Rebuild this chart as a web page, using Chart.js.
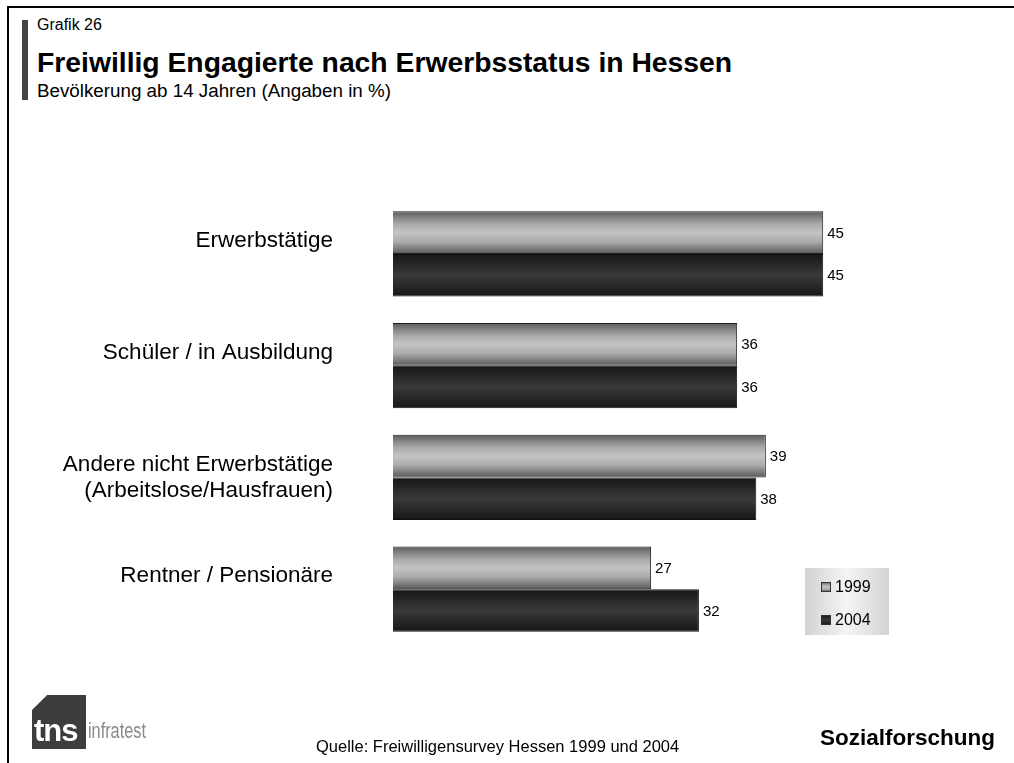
<!DOCTYPE html>
<html lang="de">
<head>
<meta charset="utf-8">
<title>Freiwillig Engagierte nach Erwerbsstatus in Hessen</title>
<script src="https://cdn.jsdelivr.net/npm/chart.js@4/dist/chart.umd.min.js"></script>
<style>
  html, body { margin: 0; padding: 0; background: #fff; }
  body { width: 1014px; height: 763px; position: relative; overflow: hidden;
         font-family: "Liberation Sans", Arial, Helvetica, sans-serif; color: #000; }
  #frame { position: absolute; left: 7px; top: 6px; right: 0; bottom: 0;
           border-left: 2px solid #000; border-top: 2px solid #000; }
  #accent { position: absolute; left: 22px; top: 20px; width: 6px; height: 80px; background: #444; }
  .t { position: absolute; white-space: nowrap; line-height: 1; }
  #kicker { left: 37px; top: 17px; font-size: 16px; }
  #title { left: 37px; top: 48px; font-size: 28.3px; font-weight: bold; }
  #subtitle { left: 37px; top: 82px; font-size: 18.8px; }
  #source { left: 316px; top: 738px; font-size: 16.5px; }
  #brand { left: 820px; top: 727px; font-size: 22.5px; font-weight: bold; }
  #logo { position: absolute; left: 32px; top: 695px; width: 54px; height: 54px; background: #3d3d3d;
          clip-path: polygon(28% 0, 100% 0, 100% 100%, 0 100%, 0 28%); }
  #logo-tns { left: 34px; top: 715px; font-size: 31px; font-weight: bold; color: #fff; letter-spacing: -1px; }
  #logo-inf { left: 88px; top: 720px; font-size: 22px; color: #8a8a8a; transform: scaleX(0.74); transform-origin: 0 0; }
  #chart { position: absolute; left: 0; top: 0; }
</style>
</head>
<body>
<div id="frame"></div>
<div id="accent"></div>
<div class="t" id="kicker">Grafik 26</div>
<div class="t" id="title">Freiwillig Engagierte nach Erwerbsstatus in Hessen</div>
<div class="t" id="subtitle">Bevölkerung ab 14 Jahren (Angaben in %)</div>
<canvas id="chart" width="1014" height="763"></canvas>
<div id="logo"></div>
<div class="t" id="logo-tns">tns</div>
<div class="t" id="logo-inf">infratest</div>
<div class="t" id="source">Quelle: Freiwilligensurvey Hessen 1999 und 2004</div>
<div class="t" id="brand">Sozialforschung</div>
<script>
// Category labels (an empty second line keeps single-line labels raised like in the print layout)
const categories = [
  ['Erwerbstätige', ''],
  ['Schüler / in Ausbildung', ''],
  ['Andere nicht Erwerbstätige', '(Arbeitslose/Hausfrauen)'],
  ['Rentner / Pensionäre', '']
];
const seriesNames = ['1999', '2004'];
const values1999 = [45, 36, 39, 27];
const values2004 = [45, 36, 38, 32];

const CAT_PCT = 0.765;
const FONT = '"Liberation Sans", Arial, Helvetica, sans-serif';

// Metallic shading for each series
const shade1999 = [[0, '#5c5c5c'], [0.3, '#a9a9a9'], [0.5, '#c4c4c4'], [0.72, '#aaaaaa'], [1, '#585858']];
const shade2004 = [[0, '#151515'], [0.5, '#3a3a3a'], [1, '#161616']];

function barFill(context, stops) {
  const chart = context.chart;
  const y = chart.scales.y;
  if (!chart.chartArea || !y) return stops[2] ? stops[2][1] : stops[1][1];
  const cat = (y.bottom - y.top) / categories.length;
  const bh = cat * CAT_PCT / 2;
  const c = y.getPixelForValue(context.dataIndex);
  const top = context.datasetIndex === 0 ? c - bh : c;
  const g = chart.ctx.createLinearGradient(0, top, 0, top + bh);
  stops.forEach(s => g.addColorStop(s[0], s[1]));
  return g;
}

// Value labels at the end of each bar
const valueLabels = {
  id: 'valueLabels',
  afterDatasetsDraw(chart) {
    const ctx = chart.ctx;
    ctx.save();
    ctx.font = '15px ' + FONT;
    ctx.fillStyle = '#000';
    ctx.textAlign = 'left';
    ctx.textBaseline = 'middle';
    chart.data.datasets.forEach((ds, di) => {
      chart.getDatasetMeta(di).data.forEach((el, i) => {
        ctx.fillText(String(ds.data[i]), el.x + 4, el.y + 1);
      });
    });
    ctx.restore();
  }
};

// Legend box in the lower right corner
const legendBox = {
  id: 'legendBox',
  afterDraw(chart) {
    const ctx = chart.ctx;
    const x = 805, y = 568, w = 84, h = 67;
    ctx.save();
    const bg = ctx.createLinearGradient(x, 0, x + w, 0);
    bg.addColorStop(0, '#d2d2d2');
    bg.addColorStop(0.5, '#f5f5f5');
    bg.addColorStop(1, '#d2d2d2');
    ctx.fillStyle = bg;
    ctx.fillRect(x, y, w, h);
    const rows = [
      { label: seriesNames[0], stops: shade1999, cy: 587 },
      { label: seriesNames[1], stops: shade2004, cy: 620 }
    ];
    ctx.font = '16px ' + FONT;
    ctx.textBaseline = 'middle';
    rows.forEach(r => {
      const sx = 821, sy = r.cy - 5, s = 10;
      const g = ctx.createLinearGradient(0, sy, 0, sy + s);
      r.stops.forEach(st => g.addColorStop(st[0], st[1]));
      ctx.fillStyle = g;
      ctx.fillRect(sx, sy, s, s);
      ctx.strokeStyle = '#333';
      ctx.lineWidth = 1;
      ctx.strokeRect(sx + 0.5, sy + 0.5, s - 1, s - 1);
      ctx.fillStyle = '#000';
      ctx.fillText(r.label, 835, r.cy + 1);
    });
    ctx.restore();
  }
};

new Chart(document.getElementById('chart'), {
  type: 'bar',
  data: {
    labels: categories,
    datasets: [
      { label: seriesNames[0], data: values1999,
        backgroundColor: c => barFill(c, shade1999),
        borderColor: '#1e1e1e', borderWidth: 1,
        categoryPercentage: CAT_PCT, barPercentage: 1 },
      { label: seriesNames[1], data: values2004,
        backgroundColor: c => barFill(c, shade2004),
        borderColor: '#111', borderWidth: 1,
        categoryPercentage: CAT_PCT, barPercentage: 1 }
    ]
  },
  options: {
    indexAxis: 'y',
    responsive: false,
    animation: false,
    layout: { padding: { top: 198, bottom: 118, left: 0, right: 143 } },
    plugins: { legend: { display: false }, tooltip: { enabled: false } },
    scales: {
      x: { display: false, min: 0, max: 50 },
      y: {
        grid: { display: false, drawTicks: false },
        border: { display: false },
        afterFit(scale) { scale.width = 393; },
        ticks: {
          padding: 60,
          color: '#000',
          font: { family: FONT, size: 22.5, lineHeight: '26px' }
        }
      }
    }
  },
  plugins: [valueLabels, legendBox]
});
</script>
</body>
</html>
